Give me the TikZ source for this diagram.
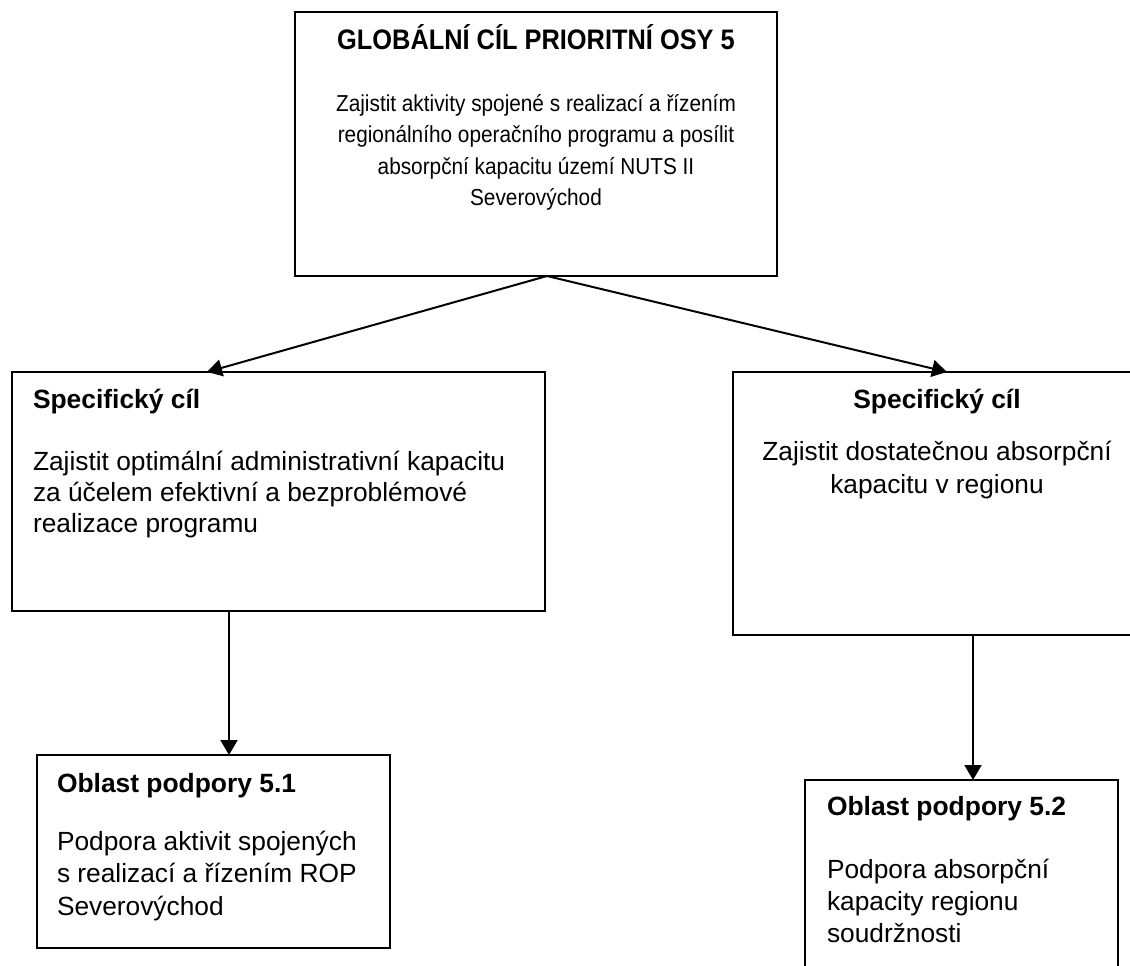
\documentclass[tikz,border=0pt]{standalone}
\usepackage{fontspec}
\setmainfont{Liberation Sans}
\newfontfamily\topfont{Liberation Sans}[FakeStretch=0.9]
\usetikzlibrary{arrows.meta}
\begin{document}
\begin{tikzpicture}[x=1pt,y=-1pt,
  box/.style={draw=black, line width=2pt, inner sep=0pt, outer sep=0pt, anchor=north west},
  txt/.style={inner sep=0pt, outer sep=0pt},
  arr/.style={line width=2pt, -{Triangle[length=15pt,width=17pt]}},
  hd/.style={txt, font=\bfseries\fontsize{26.4}{30}\selectfont},
]
\clip (0,0) rectangle (1130,966);
\fill[white] (0,0) rectangle (1130,966);
% boxes
\node[box, minimum width=482, minimum height=264] (top) at (295,12) {};
\node[box, minimum width=533, minimum height=239] (left) at (12,372) {};
\node[box, minimum width=410, minimum height=263] (right) at (733,372) {};
\node[box, minimum width=353, minimum height=193] (bl) at (37,755) {};
\node[box, minimum width=313, minimum height=220] (br) at (805,780) {};
% texts
\node[txt, anchor=base] (ttitle) at (536,50) {\parbox[t]{470pt}{\centering\topfont\bfseries\fontsize{28.2}{32}\selectfont GLOBÁLNÍ CÍL PRIORITNÍ OSY 5}};
\node[txt, anchor=base] (tbody) at (536,111) {\parbox[t]{470pt}{\centering\topfont\fontsize{23.1}{31.5}\selectfont Zajistit aktivity spojené s realizací a řízením\\ regionálního operačního programu a posílit\\ absorpční kapacitu území NUTS II\\ Severovýchod}};
\node[hd, anchor=base west] (lhead) at (33,408) {Specifický cíl};
\node[txt, anchor=base west] (lbody) at (33,470) {\parbox[t]{510pt}{\raggedright\fontsize{26.3}{31}\selectfont Zajistit optimální administrativní kapacitu\\ za účelem efektivní a bezproblémové\\ realizace programu}};
\node[hd, anchor=base] (rhead) at (937,408) {Specifický cíl};
\node[txt, anchor=base] (rbody) at (937,460) {\parbox[t]{400pt}{\centering\fontsize{26.3}{33}\selectfont Zajistit dostatečnou absorpční\\ kapacitu v regionu}};
\node[hd, anchor=base west] (blhead) at (57,792) {Oblast podpory 5.1};
\node[txt, anchor=base west] (blbody) at (57,850) {\parbox[t]{330pt}{\raggedright\fontsize{26.3}{32.5}\selectfont Podpora aktivit spojených\\ s realizací a řízením ROP\\ Severovýchod}};
\node[hd, anchor=base west] (brhead) at (827,815) {Oblast podpory 5.2};
\node[txt, anchor=base west] (brbody) at (827,878) {\parbox[t]{290pt}{\raggedright\fontsize{26.3}{32}\selectfont Podpora absorpční\\ kapacity regionu\\ soudržnosti}};
% connectors
\coordinate (src) at (547,276);
\coordinate (ltgt) at (207,372);
\coordinate (rtgt) at (947,372);
\draw[arr] (src) -- (ltgt);
\draw[arr] (src) -- (rtgt);
\draw[arr] (left.south -| 229,0) -- (bl.north -| 229,0);
\draw[arr] (right.south -| 973,0) -- (br.north -| 973,0);
\end{tikzpicture}
\end{document}
